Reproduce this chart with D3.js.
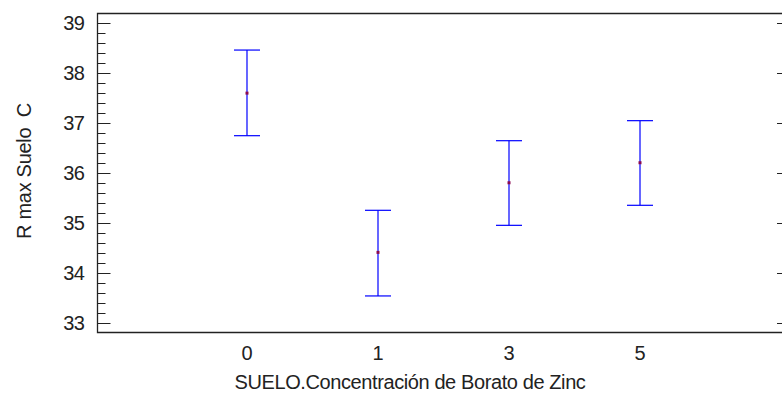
<!DOCTYPE html>
<html>
<head>
<meta charset="utf-8">
<script src="https://cdn.jsdelivr.net/npm/d3@7"></script>
<style>
  body { margin: 0; background: #fff; }
  text { font-family: "Liberation Sans", Arial, sans-serif; fill: #222; }
</style>
</head>
<body>
<div id="chart"></div>
<script>
// data
var levels = ["0", "1", "3", "5"];
var means = [37.59, 34.41, 35.80, 36.20];
var lower = [36.74, 33.54, 34.95, 35.35];
var upper = [38.45, 35.25, 36.64, 37.04];
var yTicks = [33, 34, 35, 36, 37, 38, 39];

var width = 782;
var height = 396;
var plotLeft = 97, plotRight = 790, plotTop = 13, plotBottom = 332;

var svg = d3
  .select("#chart")
  .append("svg")
  .attr("width", width)
  .attr("height", height);

var x = d3.scalePoint()
  .domain(levels)
  .range([plotLeft, plotRight])
  .padding(1.145);

var y = d3.scaleLinear()
  .domain([32.82, 39.19])
  .range([plotBottom, plotTop]);

var snap = function(v) {
  return Math.round(v) + 0.5;
};

// frame: top, left, bottom (right edge falls off the canvas)
svg.append("path")
  .attr("d", "M" + plotRight + "," + (plotTop + 0.5) + "H" + (plotLeft + 0.5) +
    "V" + (plotBottom + 0.5) + "H" + plotRight)
  .attr("fill", "none")
  .attr("stroke", "#222")
  .attr("stroke-width", 1.3);

// left axis, ticks pointing inward, minor every 0.2
var minor = d3.range(33, 39.01, 0.2).filter(function(v) {
  return Math.abs(v - Math.round(v)) > 0.01;
});
var yLeft = svg.append("g").attr("transform", "translate(" + (plotLeft + 0.5) + ",0)");
yLeft.selectAll("line.minor")
  .data(minor)
  .enter()
  .append("line")
  .attr("class", "minor")
  .attr("x1", 0).attr("x2", 8)
  .attr("y1", function(d) { return snap(y(d)); })
  .attr("y2", function(d) { return snap(y(d)); })
  .attr("stroke", "#222");
yLeft.selectAll("line.major")
  .data(yTicks)
  .enter()
  .append("line")
  .attr("class", "major")
  .attr("x1", 0).attr("x2", 13)
  .attr("y1", function(d) { return snap(y(d)); })
  .attr("y2", function(d) { return snap(y(d)); })
  .attr("stroke", "#222");
yLeft.selectAll("text")
  .data(yTicks)
  .enter()
  .append("text")
  .attr("x", -13)
  .attr("y", function(d) { return y(d); })
  .attr("dy", "0.36em")
  .attr("text-anchor", "end")
  .style("font-size", "20px")
  .style("letter-spacing", "-0.5px")
  .text(function(d) { return d; });

// right side major ticks
svg.append("g")
  .selectAll("line")
  .data(yTicks)
  .enter()
  .append("line")
  .attr("x1", plotRight - 13).attr("x2", plotRight)
  .attr("y1", function(d) { return snap(y(d)); })
  .attr("y2", function(d) { return snap(y(d)); })
  .attr("stroke", "#222");

// x tick labels
svg.append("g")
  .selectAll("text")
  .data(levels)
  .enter()
  .append("text")
  .attr("x", function(d) { return x(d); })
  .attr("y", 360)
  .attr("text-anchor", "middle")
  .style("font-size", "20px")
  .text(function(d) { return d; });

// error bars
var bars = svg.append("g")
  .selectAll("g")
  .data(levels)
  .enter()
  .append("g")
  .attr("stroke", "#0000ff")
  .attr("stroke-width", 1.2);
bars.append("line")
  .attr("x1", function(d) { return x(d); })
  .attr("x2", function(d) { return x(d); })
  .attr("y1", function(d, i) { return y(upper[i]); })
  .attr("y2", function(d, i) { return y(lower[i]); });
bars.append("line")
  .attr("x1", function(d) { return x(d) - 13; })
  .attr("x2", function(d) { return x(d) + 13; })
  .attr("y1", function(d, i) { return y(upper[i]); })
  .attr("y2", function(d, i) { return y(upper[i]); });
bars.append("line")
  .attr("x1", function(d) { return x(d) - 13; })
  .attr("x2", function(d) { return x(d) + 13; })
  .attr("y1", function(d, i) { return y(lower[i]); })
  .attr("y2", function(d, i) { return y(lower[i]); });

// means
svg.append("g")
  .selectAll("rect")
  .data(levels)
  .enter()
  .append("rect")
  .attr("x", function(d) { return x(d) - 1.5; })
  .attr("y", function(d, i) { return y(means[i]) - 1.5; })
  .attr("width", 3)
  .attr("height", 3)
  .attr("fill", "#8b0a50");

// axis titles
svg.append("text")
  .attr("x", 410)
  .attr("y", 389)
  .attr("text-anchor", "middle")
  .style("font-size", "20px")
  .style("letter-spacing", "-0.4px")
  .text("SUELO.Concentración de Borato de Zinc");

svg.append("text")
  .attr("transform", "translate(31,171) rotate(-90)")
  .attr("text-anchor", "middle")
  .style("font-size", "20px")
  .style("letter-spacing", "-0.3px")
  .style("white-space", "pre")
  .text("R max Suelo  C");
</script>
</body>
</html>
